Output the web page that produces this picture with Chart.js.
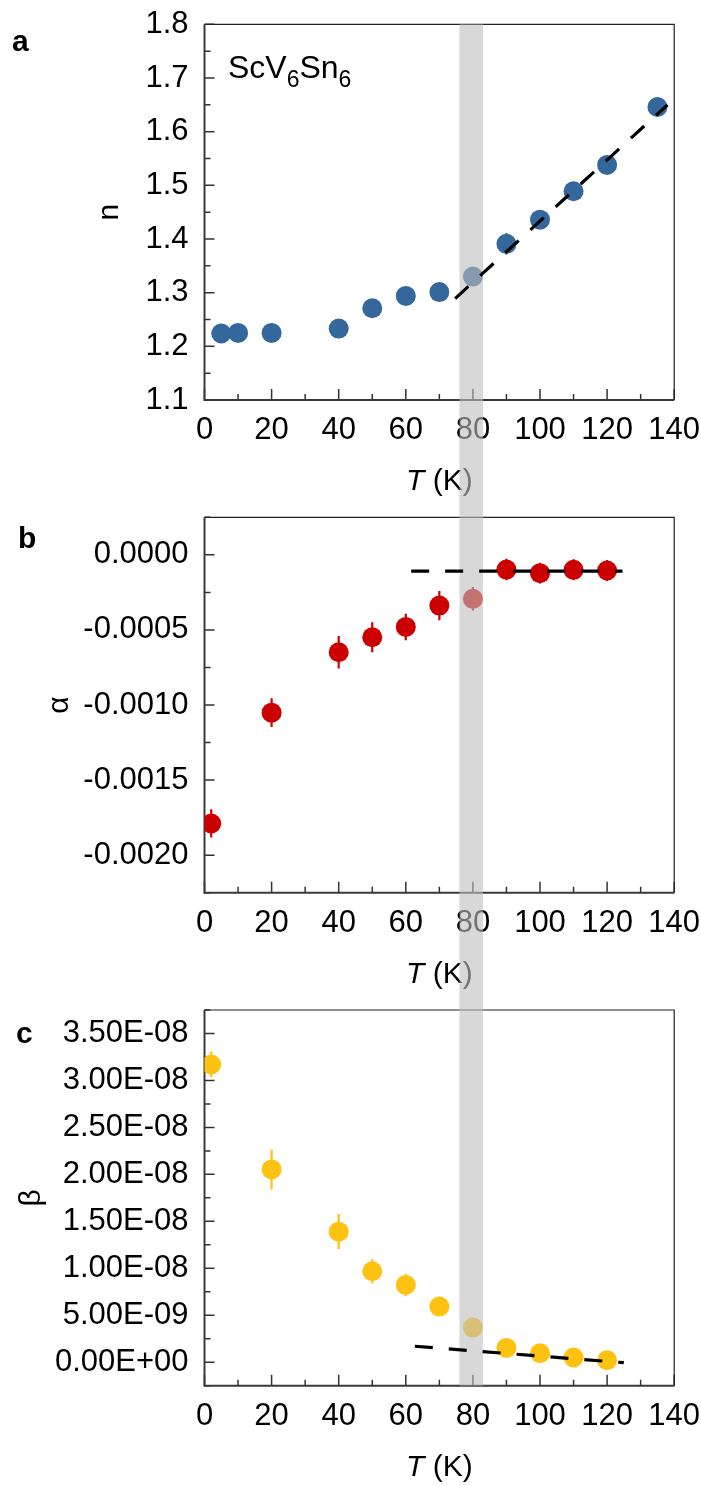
<!DOCTYPE html>
<html>
<head>
<meta charset="utf-8">
<script src="https://cdn.jsdelivr.net/npm/chart.js@4.4.1/dist/chart.umd.min.js"></script>
<style>
  html, body { margin: 0; padding: 0; background: #fff; }
  #wrap { position: relative; width: 701px; height: 1486px; }
  canvas { position: absolute; left: 0; }
</style>
</head>
<body>
<div id="wrap">
  <canvas id="chartA" width="701" height="500" style="top:0px"></canvas>
  <canvas id="chartB" width="701" height="495" style="top:500px"></canvas>
  <canvas id="chartC" width="701" height="491" style="top:995px"></canvas>
</div>
<script>
// shared x axis
const tempTicks = [0, 20, 40, 60, 80, 100, 120, 140];
const bandRange = [76, 83]; // shaded transition window (K)

// panel a: exponent n
const nTemp = [5, 10, 20, 40, 50, 60, 70, 80, 90, 100, 110, 120, 135];
const nValues = [1.224, 1.225, 1.225, 1.233, 1.271, 1.294, 1.301, 1.330, 1.391, 1.436, 1.489, 1.538, 1.646];
const nErrors = [0.012, 0.012, 0.012, 0.012, 0.014, 0.014, 0.014, 0.012, 0.02, 0.016, 0.016, 0.016, 0.014];
const nFitTemp = [74.7, 138];
const nFitValues = [1.289, 1.650];
const nTicks = [1.1, 1.2, 1.3, 1.4, 1.5, 1.6, 1.7, 1.8];

// panels b and c share temperatures
const abTemp = [2, 20, 40, 50, 60, 70, 80, 90, 100, 110, 120];

// panel b: alpha
const alphaValues = [-0.001789, -0.001051, -0.000649, -0.000549, -0.000480, -0.000338, -0.000293, -0.000098, -0.000122, -0.000100, -0.000104];
const alphaErrors = [0.000094, 0.000096, 0.000108, 0.0001, 0.000088, 0.000097, 0.000078, 0.000072, 0.000069, 0.00007, 0.00007];
const alphaFitTemp = [61.6, 124.6];
const alphaFitValues = [-0.000109, -0.000109];
const alphaTicks = [-0.002, -0.0015, -0.001, -0.0005, 0];

// panel c: beta
const betaValues = [3.17e-8, 2.053e-8, 1.39e-8, 9.68e-9, 8.23e-9, 5.92e-9, 3.69e-9, 1.52e-9, 0.96e-9, 0.5e-9, 0.21e-9];
const betaErrors = [1.38e-9, 2.13e-9, 1.88e-9, 1.28e-9, 1.2e-9, 0.9e-9, 0.9e-9, 0.8e-9, 0.7e-9, 0.6e-9, 0.6e-9];
const betaFitTemp = [62.7, 125];
const betaFitValues = [1.7e-9, -0.05e-9];
const betaTicks = [0, 5e-9, 1e-8, 1.5e-8, 2e-8, 2.5e-8, 3e-8, 3.5e-8];

const FONT = "'Liberation Sans', Arial, Helvetica, sans-serif";
const PLOT_LEFT = 204.5;
const PLOT_RIGHT = 674.2;
const AXIS_COLOR = '#333';
const BAND_COLOR = 'rgba(190, 190, 190, 0.6)';

function sciLabel(v) {
    if (v === 0) return '0.00E+00';
    const [m, e] = v.toExponential(2).split('e');
    const ex = parseInt(e, 10);
    const sign = ex < 0 ? '-' : '+';
    return m + 'E' + sign + String(Math.abs(ex)).padStart(2, '0');
}

function minorsOf(majors, min, max) {
    const step = majors[1] - majors[0];
    const out = [majors[0] - step / 2];
    majors.forEach(v => out.push(v + step / 2));
    const eps = Math.abs(step) * 1e-6;
    return out.filter(v => v >= min - eps && v <= max + eps);
}

function drawPanel(id, cfg) {
    const canvas = document.getElementById(id);

    const deco = {
        id: 'deco',
        beforeDatasetsDraw(chart) {
            const ctx = chart.ctx;
            const area = chart.chartArea;
            const xs = chart.scales.x, ys = chart.scales.y;
            ctx.save();

            // inward tick marks
            ctx.strokeStyle = AXIS_COLOR;
            ctx.lineWidth = 1.5;
            const xMinor = minorsOf(tempTicks, 0, 140);
            const yMinor = minorsOf(cfg.yTicks, cfg.yMin, cfg.yMax);
            ctx.beginPath();
            tempTicks.forEach(v => {
                const px = xs.getPixelForValue(v);
                ctx.moveTo(px, area.bottom); ctx.lineTo(px, area.bottom - 11);
            });
            xMinor.forEach(v => {
                const px = xs.getPixelForValue(v);
                ctx.moveTo(px, area.bottom); ctx.lineTo(px, area.bottom - 6);
            });
            cfg.yTicks.forEach(v => {
                const py = ys.getPixelForValue(v);
                ctx.moveTo(area.left, py); ctx.lineTo(area.left + 10, py);
            });
            yMinor.forEach(v => {
                const py = ys.getPixelForValue(v);
                ctx.moveTo(area.left, py); ctx.lineTo(area.left + 6, py);
            });
            ctx.stroke();

            // frame
            ctx.strokeStyle = '#222';
            ctx.lineWidth = 1.2;
            ctx.beginPath();
            ctx.moveTo(area.left, area.top); ctx.lineTo(area.right, area.top); ctx.lineTo(area.right, area.bottom);
            ctx.stroke();
            ctx.strokeStyle = '#3a3a3a';
            ctx.lineWidth = 2;
            ctx.beginPath();
            ctx.moveTo(area.left, area.top); ctx.lineTo(area.left, area.bottom); ctx.lineTo(area.right, area.bottom);
            ctx.stroke();

            // x axis title: italic T
            ctx.fillStyle = '#000';
            ctx.textBaseline = 'middle';
            ctx.textAlign = 'left';
            ctx.font = 'italic 30px ' + FONT;
            const w1 = ctx.measureText('T').width;
            ctx.font = '30px ' + FONT;
            const w2 = ctx.measureText(' (K)').width;
            let tx = (area.left + area.right) / 2 - (w1 + w2) / 2;
            const ty = area.bottom + 82;
            ctx.font = 'italic 30px ' + FONT;
            ctx.fillText('T', tx, ty);
            ctx.font = '30px ' + FONT;
            ctx.fillText(' (K)', tx + w1, ty);

            // panel letter
            ctx.textBaseline = 'alphabetic';
            ctx.font = 'bold 30px ' + FONT;
            ctx.fillText(cfg.letter, cfg.letterX, cfg.letterY);

            // compound name
            if (cfg.compound) {
                let x = 228;
                const base = 78;
                cfg.compound.forEach(part => {
                    ctx.font = (part.sub ? '23px ' : '32px ') + FONT;
                    ctx.fillText(part.text, x, base + (part.sub ? 9 : 0));
                    x += ctx.measureText(part.text).width;
                });
            }
            ctx.restore();
        },
        beforeDatasetDraw(chart, args) {
            if (args.index !== 0) return;
            const ctx = chart.ctx;
            const xs = chart.scales.x, ys = chart.scales.y;
            ctx.save();
            ctx.strokeStyle = cfg.color;
            ctx.lineWidth = 2.2;
            ctx.beginPath();
            cfg.temp.forEach((t, i) => {
                const px = xs.getPixelForValue(t);
                ctx.moveTo(px, ys.getPixelForValue(cfg.values[i] - cfg.errors[i]));
                ctx.lineTo(px, ys.getPixelForValue(cfg.values[i] + cfg.errors[i]));
            });
            ctx.stroke();
            ctx.restore();
        },
        afterDatasetDraw(chart, args) {
            if (args.index !== 0) return;
            const ctx = chart.ctx;
            const area = chart.chartArea;
            const xs = chart.scales.x;
            const x0 = xs.getPixelForValue(bandRange[0]);
            const x1 = xs.getPixelForValue(bandRange[1]);
            const y0 = cfg.bandTop ? area.top : 0;
            const y1 = cfg.bandBottom ? area.bottom : chart.height;
            ctx.save();
            ctx.fillStyle = BAND_COLOR;
            ctx.fillRect(x0, y0, x1 - x0, y1 - y0);
            ctx.restore();
        }
    };

    new Chart(canvas, {
        type: 'scatter',
        data: {
            datasets: [{
                label: 'data',
                data: cfg.temp.map((t, i) => ({x: t, y: cfg.values[i]})),
                backgroundColor: cfg.color,
                borderWidth: 0,
                pointRadius: 10,
                pointHoverRadius: 10,
                clip: 0,
                order: 2
            }, {
                label: 'fit',
                data: cfg.fitTemp.map((t, i) => ({x: t, y: cfg.fitValues[i]})),
                showLine: true,
                borderColor: '#000',
                borderWidth: 3.2,
                borderDash: [18, 16],
                pointRadius: 0,
                fill: false,
                clip: false,
                order: 1
            }]
        },
        options: {
            responsive: false,
            animation: false,
            events: [],
            layout: { padding: { left: cfg.padLeft, right: 701 - PLOT_RIGHT, top: cfg.padTop, bottom: 0 } },
            plugins: { legend: { display: false }, tooltip: { enabled: false } },
            scales: {
                x: {
                    type: 'linear',
                    min: 0,
                    max: 140,
                    grid: { display: false, drawTicks: false },
                    border: { display: false },
                    afterBuildTicks: s => { s.ticks = tempTicks.map(v => ({value: v})); },
                    afterFit: s => {
                        s.height = canvas.height - cfg.plotBottom;
                        s.paddingLeft = 0; s.paddingRight = 0;
                    },
                    ticks: {
                        autoSkip: false,
                        maxRotation: 0,
                        minRotation: 0,
                        padding: 12,
                        color: '#000',
                        font: { family: FONT, size: 31 },
                        callback: v => String(v)
                    }
                },
                y: {
                    type: 'linear',
                    min: cfg.yMin,
                    max: cfg.yMax,
                    grid: { display: false, drawTicks: false },
                    border: { display: false },
                    afterBuildTicks: s => { s.ticks = cfg.yTicks.map(v => ({value: v})); },
                    afterFit: s => {
                        s.width = PLOT_LEFT - cfg.padLeft;
                        s.paddingTop = 0; s.paddingBottom = 0;
                    },
                    title: {
                        display: true,
                        text: cfg.yTitle,
                        color: '#000',
                        padding: 0,
                        font: { family: FONT, size: 30 }
                    },
                    ticks: {
                        autoSkip: false,
                        padding: 16,
                        color: '#000',
                        font: { family: FONT, size: 31 },
                        callback: v => cfg.fmt(v)
                    }
                }
            }
        },
        plugins: [deco]
    });
}

drawPanel('chartA', {
    temp: nTemp, values: nValues, errors: nErrors,
    fitTemp: nFitTemp, fitValues: nFitValues,
    color: '#34679b',
    yMin: 1.1, yMax: 1.8, yTicks: nTicks,
    fmt: v => v.toFixed(1),
    yTitle: 'n',
    padLeft: 92, padTop: 24.3, plotBottom: 400,
    letter: 'a', letterX: 12, letterY: 51,
    compound: [{text: 'ScV'}, {text: '6', sub: true}, {text: 'Sn'}, {text: '6', sub: true}],
    bandTop: true, bandBottom: false
});

drawPanel('chartB', {
    temp: abTemp, values: alphaValues, errors: alphaErrors,
    fitTemp: alphaFitTemp, fitValues: alphaFitValues,
    color: '#cc0000',
    yMin: -0.00225, yMax: 0.00025, yTicks: alphaTicks,
    fmt: v => (Math.abs(v) < 1e-12 ? 0 : v).toFixed(4),
    yTitle: 'α',
    padLeft: 42, padTop: 17.3, plotBottom: 392.7,
    letter: 'b', letterX: 18, letterY: 48,
    bandTop: false, bandBottom: false
});

drawPanel('chartC', {
    temp: abTemp, values: betaValues, errors: betaErrors,
    fitTemp: betaFitTemp, fitValues: betaFitValues,
    color: '#fec212',
    yMin: -2.5e-9, yMax: 3.75e-8, yTicks: betaTicks,
    fmt: sciLabel,
    yTitle: 'β',
    padLeft: 13.5, padTop: 15, plotBottom: 390.7,
    letter: 'c', letterX: 16, letterY: 48,
    bandTop: false, bandBottom: true
});
</script>
</body>
</html>
